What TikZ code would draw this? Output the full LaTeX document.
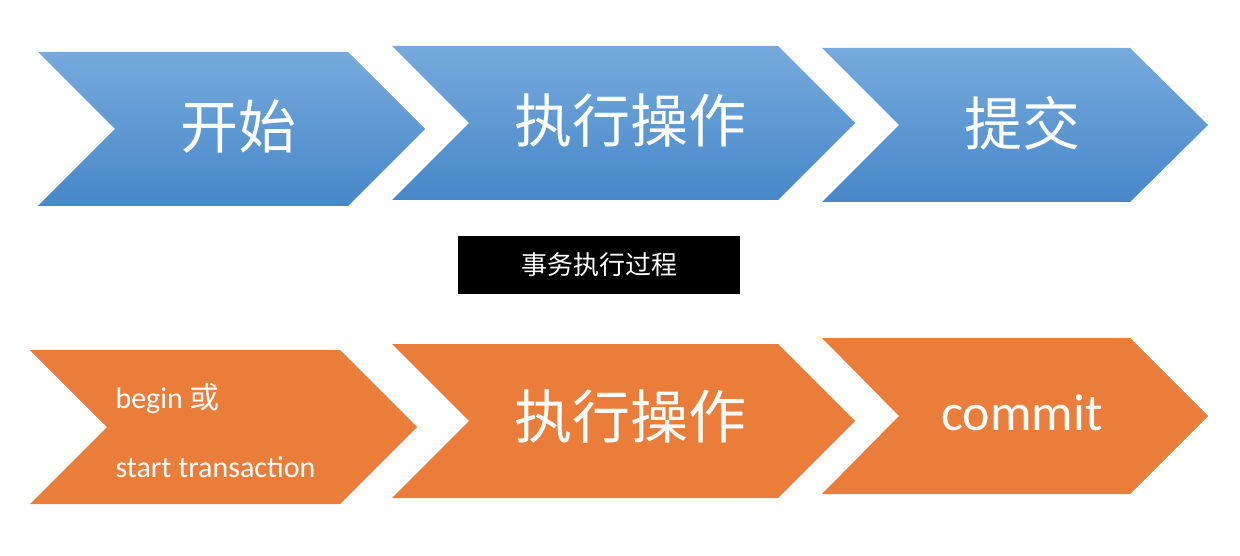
\documentclass[tikz,border=0pt]{standalone}
\usepackage{fontspec}
\setmainfont{Carlito}
\newfontfamily\cjk{Noto Sans CJK SC}
\begin{document}
\begin{tikzpicture}[x=1pt,y=-1pt]
\useasboundingbox (0,0) rectangle (1240,556);
\definecolor{bluetop}{HTML}{76AADD}
\definecolor{bluebot}{HTML}{4787C8}
\definecolor{orng}{HTML}{EB7D3B}
\tikzset{
  bluech/.style={top color=bluetop,bottom color=bluebot,draw=none},
  orch/.style={fill=orng,draw=none},
  bigcjk/.style={text=white,font=\cjk\fontsize{58}{60}\selectfont},
  entext/.style={text=white,font=\fontsize{52}{56}\selectfont},
  smtext/.style={text=white,font=\fontsize{30}{34}\selectfont,align=left}
}
\newcommand{\chev}[6]{% style, x, top, bottom, rightx, tipx
  \path[#1] (#2,#3) -- (#5,#3) -- (#6,{(#3+#4)/2}) -- (#5,#4) -- (#2,#4) -- ({#2+77},{(#3+#4)/2}) -- cycle;}
\chev{bluech}{38}{52}{206}{348}{425}
\chev{bluech}{392}{46}{200}{778}{855}
\chev{bluech}{822}{48}{202}{1130}{1208}
\chev{orch}{30}{350}{504}{340}{417}
\chev{orch}{392}{344}{498}{778}{855}
\chev{orch}{822}{338}{494}{1130}{1208}
\node[bigcjk] (t1) at (238,127) {开始};
\node[bigcjk] (t2) at (630,121) {执行操作};
\node[bigcjk] (t3) at (1022,123) {提交};
\node[fill=black,minimum width=282pt,minimum height=58pt,text=white,font=\cjk\fontsize{26}{28}\selectfont] (lab) at (599,265) {事务执行过程};
\node[smtext,anchor=west] (b1) at (112,399) {begin {\cjk 或}};
\node[smtext,anchor=west] (b2) at (112,467) {start transaction};
\node[bigcjk] (b3) at (630,417) {执行操作};
\node[entext] (b4) at (1022,413) {commit};
\end{tikzpicture}
\end{document}
